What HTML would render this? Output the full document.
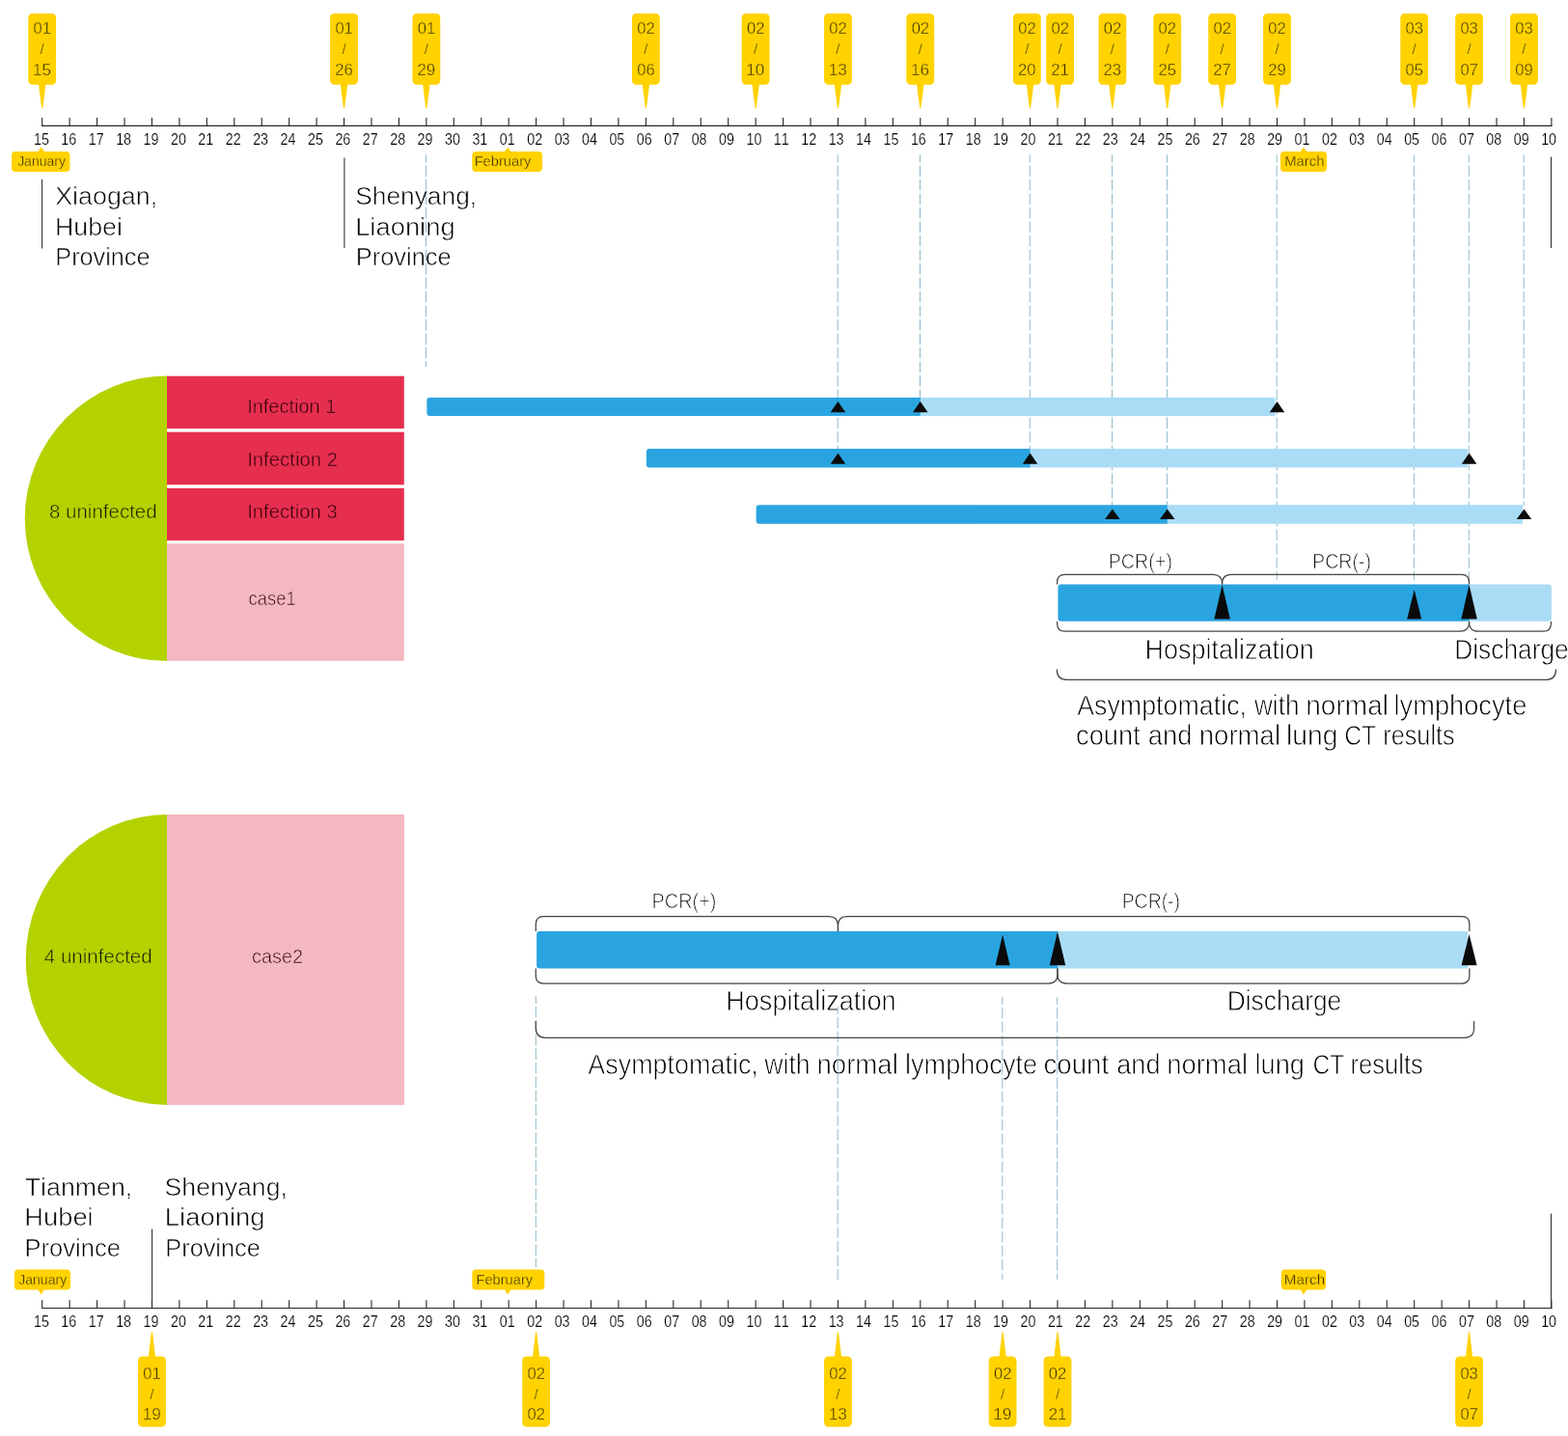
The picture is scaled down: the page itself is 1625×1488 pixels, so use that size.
<!DOCTYPE html>
<html lang="en">
<head>
<meta charset="utf-8">
<title>Timeline of exposure and infection</title>
<style>
html,body{margin:0;padding:0;background:#fff;}
body{width:1625px;height:1488px;overflow:hidden;}
svg{display:block;font-family:"Liberation Sans",sans-serif;font-kerning:none;font-variant-ligatures:none;}
svg text{paint-order:fill stroke;stroke-linejoin:round;}
</style>
</head>
<body>
<svg width="1625" height="1488" viewBox="0 0 1625 1488">
<rect width="1625" height="1488" fill="#ffffff"/>
<g stroke="#262626" stroke-width="1.1" fill="none">
<line x1="43.1" y1="130.4" x2="1608.5" y2="130.4"/>
<path d="M43.7 130.4 V122 M72.14 130.4 V122 M100.58 130.4 V122 M129.02 130.4 V122 M157.46 130.4 V122 M185.9 130.4 V122 M214.34 130.4 V122 M242.78 130.4 V122 M271.22 130.4 V122 M299.66 130.4 V122 M328.1 130.4 V122 M356.54 130.4 V122 M384.98 130.4 V122 M413.42 130.4 V122 M441.86 130.4 V122 M470.3 130.4 V122 M498.74 130.4 V122 M527.18 130.4 V122 M555.62 130.4 V122 M584.06 130.4 V122 M612.5 130.4 V122 M640.94 130.4 V122 M669.38 130.4 V122 M697.82 130.4 V122 M726.26 130.4 V122 M754.7 130.4 V122 M783.14 130.4 V122 M811.58 130.4 V122 M840.02 130.4 V122 M868.46 130.4 V122 M896.9 130.4 V122 M925.34 130.4 V122 M953.78 130.4 V122 M982.22 130.4 V122 M1010.66 130.4 V122 M1039.1 130.4 V122 M1067.54 130.4 V122 M1095.98 130.4 V122 M1124.42 130.4 V122 M1152.86 130.4 V122 M1181.3 130.4 V122 M1209.74 130.4 V122 M1238.18 130.4 V122 M1266.62 130.4 V122 M1295.06 130.4 V122 M1323.5 130.4 V122 M1351.94 130.4 V122 M1380.38 130.4 V122 M1408.82 130.4 V122 M1437.26 130.4 V122 M1465.7 130.4 V122 M1494.14 130.4 V122 M1522.58 130.4 V122 M1551.02 130.4 V122 M1579.46 130.4 V122 M1607.9 130.4 V122"/>
</g>
<g font-size="16.2" fill="#000" stroke="#fff" stroke-width="0.2" text-anchor="middle">
<text x="42.9" y="149.7" textLength="15.9" lengthAdjust="spacingAndGlyphs">15</text>
<text x="71.3" y="149.7" textLength="15.9" lengthAdjust="spacingAndGlyphs">16</text>
<text x="99.71" y="149.7" textLength="15.9" lengthAdjust="spacingAndGlyphs">17</text>
<text x="128.11" y="149.7" textLength="15.9" lengthAdjust="spacingAndGlyphs">18</text>
<text x="156.52" y="149.7" textLength="15.9" lengthAdjust="spacingAndGlyphs">19</text>
<text x="184.92" y="149.7" textLength="15.9" lengthAdjust="spacingAndGlyphs">20</text>
<text x="213.32" y="149.7" textLength="15.9" lengthAdjust="spacingAndGlyphs">21</text>
<text x="241.73" y="149.7" textLength="15.9" lengthAdjust="spacingAndGlyphs">22</text>
<text x="270.13" y="149.7" textLength="15.9" lengthAdjust="spacingAndGlyphs">23</text>
<text x="298.54" y="149.7" textLength="15.9" lengthAdjust="spacingAndGlyphs">24</text>
<text x="326.94" y="149.7" textLength="15.9" lengthAdjust="spacingAndGlyphs">25</text>
<text x="355.34" y="149.7" textLength="15.9" lengthAdjust="spacingAndGlyphs">26</text>
<text x="383.75" y="149.7" textLength="15.9" lengthAdjust="spacingAndGlyphs">27</text>
<text x="412.15" y="149.7" textLength="15.9" lengthAdjust="spacingAndGlyphs">28</text>
<text x="440.56" y="149.7" textLength="15.9" lengthAdjust="spacingAndGlyphs">29</text>
<text x="468.96" y="149.7" textLength="15.9" lengthAdjust="spacingAndGlyphs">30</text>
<text x="497.36" y="149.7" textLength="15.9" lengthAdjust="spacingAndGlyphs">31</text>
<text x="525.77" y="149.7" textLength="15.9" lengthAdjust="spacingAndGlyphs">01</text>
<text x="554.17" y="149.7" textLength="15.9" lengthAdjust="spacingAndGlyphs">02</text>
<text x="582.58" y="149.7" textLength="15.9" lengthAdjust="spacingAndGlyphs">03</text>
<text x="610.98" y="149.7" textLength="15.9" lengthAdjust="spacingAndGlyphs">04</text>
<text x="639.38" y="149.7" textLength="15.9" lengthAdjust="spacingAndGlyphs">05</text>
<text x="667.79" y="149.7" textLength="15.9" lengthAdjust="spacingAndGlyphs">06</text>
<text x="696.19" y="149.7" textLength="15.9" lengthAdjust="spacingAndGlyphs">07</text>
<text x="724.6" y="149.7" textLength="15.9" lengthAdjust="spacingAndGlyphs">08</text>
<text x="753" y="149.7" textLength="15.9" lengthAdjust="spacingAndGlyphs">09</text>
<text x="781.4" y="149.7" textLength="15.9" lengthAdjust="spacingAndGlyphs">10</text>
<text x="809.81" y="149.7" textLength="15.9" lengthAdjust="spacingAndGlyphs">11</text>
<text x="838.21" y="149.7" textLength="15.9" lengthAdjust="spacingAndGlyphs">12</text>
<text x="866.62" y="149.7" textLength="15.9" lengthAdjust="spacingAndGlyphs">13</text>
<text x="895.02" y="149.7" textLength="15.9" lengthAdjust="spacingAndGlyphs">14</text>
<text x="923.42" y="149.7" textLength="15.9" lengthAdjust="spacingAndGlyphs">15</text>
<text x="951.83" y="149.7" textLength="15.9" lengthAdjust="spacingAndGlyphs">16</text>
<text x="980.23" y="149.7" textLength="15.9" lengthAdjust="spacingAndGlyphs">17</text>
<text x="1008.64" y="149.7" textLength="15.9" lengthAdjust="spacingAndGlyphs">18</text>
<text x="1037.04" y="149.7" textLength="15.9" lengthAdjust="spacingAndGlyphs">19</text>
<text x="1065.44" y="149.7" textLength="15.9" lengthAdjust="spacingAndGlyphs">20</text>
<text x="1093.85" y="149.7" textLength="15.9" lengthAdjust="spacingAndGlyphs">21</text>
<text x="1122.25" y="149.7" textLength="15.9" lengthAdjust="spacingAndGlyphs">22</text>
<text x="1150.66" y="149.7" textLength="15.9" lengthAdjust="spacingAndGlyphs">23</text>
<text x="1179.06" y="149.7" textLength="15.9" lengthAdjust="spacingAndGlyphs">24</text>
<text x="1207.46" y="149.7" textLength="15.9" lengthAdjust="spacingAndGlyphs">25</text>
<text x="1235.87" y="149.7" textLength="15.9" lengthAdjust="spacingAndGlyphs">26</text>
<text x="1264.27" y="149.7" textLength="15.9" lengthAdjust="spacingAndGlyphs">27</text>
<text x="1292.68" y="149.7" textLength="15.9" lengthAdjust="spacingAndGlyphs">28</text>
<text x="1321.08" y="149.7" textLength="15.9" lengthAdjust="spacingAndGlyphs">29</text>
<text x="1349.48" y="149.7" textLength="15.9" lengthAdjust="spacingAndGlyphs">01</text>
<text x="1377.89" y="149.7" textLength="15.9" lengthAdjust="spacingAndGlyphs">02</text>
<text x="1406.29" y="149.7" textLength="15.9" lengthAdjust="spacingAndGlyphs">03</text>
<text x="1434.7" y="149.7" textLength="15.9" lengthAdjust="spacingAndGlyphs">04</text>
<text x="1463.1" y="149.7" textLength="15.9" lengthAdjust="spacingAndGlyphs">05</text>
<text x="1491.5" y="149.7" textLength="15.9" lengthAdjust="spacingAndGlyphs">06</text>
<text x="1519.91" y="149.7" textLength="15.9" lengthAdjust="spacingAndGlyphs">07</text>
<text x="1548.31" y="149.7" textLength="15.9" lengthAdjust="spacingAndGlyphs">08</text>
<text x="1576.72" y="149.7" textLength="15.9" lengthAdjust="spacingAndGlyphs">09</text>
<text x="1605.12" y="149.7" textLength="15.9" lengthAdjust="spacingAndGlyphs">10</text>
</g>
<g stroke="#262626" stroke-width="1.1" fill="none">
<line x1="43.1" y1="1355.5" x2="1608.5" y2="1355.5"/>
<path d="M43.7 1355.5 V1347.2 M72.14 1355.5 V1347.2 M100.58 1355.5 V1347.2 M129.02 1355.5 V1347.2 M157.46 1355.5 V1347.2 M185.9 1355.5 V1347.2 M214.34 1355.5 V1347.2 M242.78 1355.5 V1347.2 M271.22 1355.5 V1347.2 M299.66 1355.5 V1347.2 M328.1 1355.5 V1347.2 M356.54 1355.5 V1347.2 M384.98 1355.5 V1347.2 M413.42 1355.5 V1347.2 M441.86 1355.5 V1347.2 M470.3 1355.5 V1347.2 M498.74 1355.5 V1347.2 M527.18 1355.5 V1347.2 M555.62 1355.5 V1347.2 M584.06 1355.5 V1347.2 M612.5 1355.5 V1347.2 M640.94 1355.5 V1347.2 M669.38 1355.5 V1347.2 M697.82 1355.5 V1347.2 M726.26 1355.5 V1347.2 M754.7 1355.5 V1347.2 M783.14 1355.5 V1347.2 M811.58 1355.5 V1347.2 M840.02 1355.5 V1347.2 M868.46 1355.5 V1347.2 M896.9 1355.5 V1347.2 M925.34 1355.5 V1347.2 M953.78 1355.5 V1347.2 M982.22 1355.5 V1347.2 M1010.66 1355.5 V1347.2 M1039.1 1355.5 V1347.2 M1067.54 1355.5 V1347.2 M1095.98 1355.5 V1347.2 M1124.42 1355.5 V1347.2 M1152.86 1355.5 V1347.2 M1181.3 1355.5 V1347.2 M1209.74 1355.5 V1347.2 M1238.18 1355.5 V1347.2 M1266.62 1355.5 V1347.2 M1295.06 1355.5 V1347.2 M1323.5 1355.5 V1347.2 M1351.94 1355.5 V1347.2 M1380.38 1355.5 V1347.2 M1408.82 1355.5 V1347.2 M1437.26 1355.5 V1347.2 M1465.7 1355.5 V1347.2 M1494.14 1355.5 V1347.2 M1522.58 1355.5 V1347.2 M1551.02 1355.5 V1347.2 M1579.46 1355.5 V1347.2 M1607.9 1355.5 V1347.2"/>
</g>
<g font-size="16.2" fill="#000" stroke="#fff" stroke-width="0.2" text-anchor="middle">
<text x="42.9" y="1374.6" textLength="15.9" lengthAdjust="spacingAndGlyphs">15</text>
<text x="71.3" y="1374.6" textLength="15.9" lengthAdjust="spacingAndGlyphs">16</text>
<text x="99.71" y="1374.6" textLength="15.9" lengthAdjust="spacingAndGlyphs">17</text>
<text x="128.11" y="1374.6" textLength="15.9" lengthAdjust="spacingAndGlyphs">18</text>
<text x="156.52" y="1374.6" textLength="15.9" lengthAdjust="spacingAndGlyphs">19</text>
<text x="184.92" y="1374.6" textLength="15.9" lengthAdjust="spacingAndGlyphs">20</text>
<text x="213.32" y="1374.6" textLength="15.9" lengthAdjust="spacingAndGlyphs">21</text>
<text x="241.73" y="1374.6" textLength="15.9" lengthAdjust="spacingAndGlyphs">22</text>
<text x="270.13" y="1374.6" textLength="15.9" lengthAdjust="spacingAndGlyphs">23</text>
<text x="298.54" y="1374.6" textLength="15.9" lengthAdjust="spacingAndGlyphs">24</text>
<text x="326.94" y="1374.6" textLength="15.9" lengthAdjust="spacingAndGlyphs">25</text>
<text x="355.34" y="1374.6" textLength="15.9" lengthAdjust="spacingAndGlyphs">26</text>
<text x="383.75" y="1374.6" textLength="15.9" lengthAdjust="spacingAndGlyphs">27</text>
<text x="412.15" y="1374.6" textLength="15.9" lengthAdjust="spacingAndGlyphs">28</text>
<text x="440.56" y="1374.6" textLength="15.9" lengthAdjust="spacingAndGlyphs">29</text>
<text x="468.96" y="1374.6" textLength="15.9" lengthAdjust="spacingAndGlyphs">30</text>
<text x="497.36" y="1374.6" textLength="15.9" lengthAdjust="spacingAndGlyphs">31</text>
<text x="525.77" y="1374.6" textLength="15.9" lengthAdjust="spacingAndGlyphs">01</text>
<text x="554.17" y="1374.6" textLength="15.9" lengthAdjust="spacingAndGlyphs">02</text>
<text x="582.58" y="1374.6" textLength="15.9" lengthAdjust="spacingAndGlyphs">03</text>
<text x="610.98" y="1374.6" textLength="15.9" lengthAdjust="spacingAndGlyphs">04</text>
<text x="639.38" y="1374.6" textLength="15.9" lengthAdjust="spacingAndGlyphs">05</text>
<text x="667.79" y="1374.6" textLength="15.9" lengthAdjust="spacingAndGlyphs">06</text>
<text x="696.19" y="1374.6" textLength="15.9" lengthAdjust="spacingAndGlyphs">07</text>
<text x="724.6" y="1374.6" textLength="15.9" lengthAdjust="spacingAndGlyphs">08</text>
<text x="753" y="1374.6" textLength="15.9" lengthAdjust="spacingAndGlyphs">09</text>
<text x="781.4" y="1374.6" textLength="15.9" lengthAdjust="spacingAndGlyphs">10</text>
<text x="809.81" y="1374.6" textLength="15.9" lengthAdjust="spacingAndGlyphs">11</text>
<text x="838.21" y="1374.6" textLength="15.9" lengthAdjust="spacingAndGlyphs">12</text>
<text x="866.62" y="1374.6" textLength="15.9" lengthAdjust="spacingAndGlyphs">13</text>
<text x="895.02" y="1374.6" textLength="15.9" lengthAdjust="spacingAndGlyphs">14</text>
<text x="923.42" y="1374.6" textLength="15.9" lengthAdjust="spacingAndGlyphs">15</text>
<text x="951.83" y="1374.6" textLength="15.9" lengthAdjust="spacingAndGlyphs">16</text>
<text x="980.23" y="1374.6" textLength="15.9" lengthAdjust="spacingAndGlyphs">17</text>
<text x="1008.64" y="1374.6" textLength="15.9" lengthAdjust="spacingAndGlyphs">18</text>
<text x="1037.04" y="1374.6" textLength="15.9" lengthAdjust="spacingAndGlyphs">19</text>
<text x="1065.44" y="1374.6" textLength="15.9" lengthAdjust="spacingAndGlyphs">20</text>
<text x="1093.85" y="1374.6" textLength="15.9" lengthAdjust="spacingAndGlyphs">21</text>
<text x="1122.25" y="1374.6" textLength="15.9" lengthAdjust="spacingAndGlyphs">22</text>
<text x="1150.66" y="1374.6" textLength="15.9" lengthAdjust="spacingAndGlyphs">23</text>
<text x="1179.06" y="1374.6" textLength="15.9" lengthAdjust="spacingAndGlyphs">24</text>
<text x="1207.46" y="1374.6" textLength="15.9" lengthAdjust="spacingAndGlyphs">25</text>
<text x="1235.87" y="1374.6" textLength="15.9" lengthAdjust="spacingAndGlyphs">26</text>
<text x="1264.27" y="1374.6" textLength="15.9" lengthAdjust="spacingAndGlyphs">27</text>
<text x="1292.68" y="1374.6" textLength="15.9" lengthAdjust="spacingAndGlyphs">28</text>
<text x="1321.08" y="1374.6" textLength="15.9" lengthAdjust="spacingAndGlyphs">29</text>
<text x="1349.48" y="1374.6" textLength="15.9" lengthAdjust="spacingAndGlyphs">01</text>
<text x="1377.89" y="1374.6" textLength="15.9" lengthAdjust="spacingAndGlyphs">02</text>
<text x="1406.29" y="1374.6" textLength="15.9" lengthAdjust="spacingAndGlyphs">03</text>
<text x="1434.7" y="1374.6" textLength="15.9" lengthAdjust="spacingAndGlyphs">04</text>
<text x="1463.1" y="1374.6" textLength="15.9" lengthAdjust="spacingAndGlyphs">05</text>
<text x="1491.5" y="1374.6" textLength="15.9" lengthAdjust="spacingAndGlyphs">06</text>
<text x="1519.91" y="1374.6" textLength="15.9" lengthAdjust="spacingAndGlyphs">07</text>
<text x="1548.31" y="1374.6" textLength="15.9" lengthAdjust="spacingAndGlyphs">08</text>
<text x="1576.72" y="1374.6" textLength="15.9" lengthAdjust="spacingAndGlyphs">09</text>
<text x="1605.12" y="1374.6" textLength="15.9" lengthAdjust="spacingAndGlyphs">10</text>
</g>
<g font-size="17.2" fill="#3d3000" stroke="#FFD200" stroke-width="0.4">
<path d="M40 87 L41.5 100 L43.2 112 H44.2 L45.9 100 L47.4 87 Z" fill="#FFD200" stroke="none"/>
<rect x="29.3" y="14" width="28.8" height="73.8" rx="4.5" fill="#FFD200" stroke="none"/>
<text x="34.55" y="35" textLength="18.46" lengthAdjust="spacingAndGlyphs">01</text>
<text x="43.7" y="55.8" font-size="15" text-anchor="middle">/</text>
<text x="33.9" y="77.5" textLength="19.02" lengthAdjust="spacingAndGlyphs">15</text>
</g>
<g font-size="17.2" fill="#3d3000" stroke="#FFD200" stroke-width="0.4">
<path d="M352.84 87 L354.34 100 L356.04 112 H357.04 L358.74 100 L360.24 87 Z" fill="#FFD200" stroke="none"/>
<rect x="342.14" y="14" width="28.8" height="73.8" rx="4.5" fill="#FFD200" stroke="none"/>
<text x="347.39" y="35" textLength="18.46" lengthAdjust="spacingAndGlyphs">01</text>
<text x="356.54" y="55.8" font-size="15" text-anchor="middle">/</text>
<text x="347.2" y="77.5" textLength="18.57" lengthAdjust="spacingAndGlyphs">26</text>
</g>
<g font-size="17.2" fill="#3d3000" stroke="#FFD200" stroke-width="0.4">
<path d="M438.16 87 L439.66 100 L441.36 112 H442.36 L444.06 100 L445.56 87 Z" fill="#FFD200" stroke="none"/>
<rect x="427.46" y="14" width="28.8" height="73.8" rx="4.5" fill="#FFD200" stroke="none"/>
<text x="432.71" y="35" textLength="18.46" lengthAdjust="spacingAndGlyphs">01</text>
<text x="441.86" y="55.8" font-size="15" text-anchor="middle">/</text>
<text x="432.52" y="77.5" textLength="18.64" lengthAdjust="spacingAndGlyphs">29</text>
</g>
<g font-size="17.2" fill="#3d3000" stroke="#FFD200" stroke-width="0.4">
<path d="M665.68 87 L667.18 100 L668.88 112 H669.88 L671.58 100 L673.08 87 Z" fill="#FFD200" stroke="none"/>
<rect x="654.98" y="14" width="28.8" height="73.8" rx="4.5" fill="#FFD200" stroke="none"/>
<text x="660.23" y="35" textLength="18.48" lengthAdjust="spacingAndGlyphs">02</text>
<text x="669.38" y="55.8" font-size="15" text-anchor="middle">/</text>
<text x="660.23" y="77.5" textLength="18.37" lengthAdjust="spacingAndGlyphs">06</text>
</g>
<g font-size="17.2" fill="#3d3000" stroke="#FFD200" stroke-width="0.4">
<path d="M779.44 87 L780.94 100 L782.64 112 H783.64 L785.34 100 L786.84 87 Z" fill="#FFD200" stroke="none"/>
<rect x="768.74" y="14" width="28.8" height="73.8" rx="4.5" fill="#FFD200" stroke="none"/>
<text x="773.99" y="35" textLength="18.48" lengthAdjust="spacingAndGlyphs">02</text>
<text x="783.14" y="55.8" font-size="15" text-anchor="middle">/</text>
<text x="773.34" y="77.5" textLength="18.96" lengthAdjust="spacingAndGlyphs">10</text>
</g>
<g font-size="17.2" fill="#3d3000" stroke="#FFD200" stroke-width="0.4">
<path d="M864.76 87 L866.26 100 L867.96 112 H868.96 L870.66 100 L872.16 87 Z" fill="#FFD200" stroke="none"/>
<rect x="854.06" y="14" width="28.8" height="73.8" rx="4.5" fill="#FFD200" stroke="none"/>
<text x="859.31" y="35" textLength="18.48" lengthAdjust="spacingAndGlyphs">02</text>
<text x="868.46" y="55.8" font-size="15" text-anchor="middle">/</text>
<text x="858.65" y="77.5" textLength="19.06" lengthAdjust="spacingAndGlyphs">13</text>
</g>
<g font-size="17.2" fill="#3d3000" stroke="#FFD200" stroke-width="0.4">
<path d="M950.08 87 L951.58 100 L953.28 112 H954.28 L955.98 100 L957.48 87 Z" fill="#FFD200" stroke="none"/>
<rect x="939.38" y="14" width="28.8" height="73.8" rx="4.5" fill="#FFD200" stroke="none"/>
<text x="944.63" y="35" textLength="18.48" lengthAdjust="spacingAndGlyphs">02</text>
<text x="953.78" y="55.8" font-size="15" text-anchor="middle">/</text>
<text x="943.97" y="77.5" textLength="19.06" lengthAdjust="spacingAndGlyphs">16</text>
</g>
<g font-size="17.2" fill="#3d3000" stroke="#FFD200" stroke-width="0.4">
<path d="M1063.84 87 L1065.34 100 L1067.04 112 H1068.04 L1069.74 100 L1071.24 87 Z" fill="#FFD200" stroke="none"/>
<rect x="1049.94" y="14" width="28.8" height="73.8" rx="4.5" fill="#FFD200" stroke="none"/>
<text x="1055.19" y="35" textLength="18.48" lengthAdjust="spacingAndGlyphs">02</text>
<text x="1064.34" y="55.8" font-size="15" text-anchor="middle">/</text>
<text x="1055" y="77.5" textLength="18.48" lengthAdjust="spacingAndGlyphs">20</text>
</g>
<g font-size="17.2" fill="#3d3000" stroke="#FFD200" stroke-width="0.4">
<path d="M1092.28 87 L1093.78 100 L1095.48 112 H1096.48 L1098.18 100 L1099.68 87 Z" fill="#FFD200" stroke="none"/>
<rect x="1084.18" y="14" width="28.8" height="73.8" rx="4.5" fill="#FFD200" stroke="none"/>
<text x="1089.43" y="35" textLength="18.48" lengthAdjust="spacingAndGlyphs">02</text>
<text x="1098.58" y="55.8" font-size="15" text-anchor="middle">/</text>
<text x="1089.24" y="77.5" textLength="18.66" lengthAdjust="spacingAndGlyphs">21</text>
</g>
<g font-size="17.2" fill="#3d3000" stroke="#FFD200" stroke-width="0.4">
<path d="M1149.16 87 L1150.66 100 L1152.36 112 H1153.36 L1155.06 100 L1156.56 87 Z" fill="#FFD200" stroke="none"/>
<rect x="1138.46" y="14" width="28.8" height="73.8" rx="4.5" fill="#FFD200" stroke="none"/>
<text x="1143.71" y="35" textLength="18.48" lengthAdjust="spacingAndGlyphs">02</text>
<text x="1152.86" y="55.8" font-size="15" text-anchor="middle">/</text>
<text x="1143.52" y="77.5" textLength="18.57" lengthAdjust="spacingAndGlyphs">23</text>
</g>
<g font-size="17.2" fill="#3d3000" stroke="#FFD200" stroke-width="0.4">
<path d="M1206.04 87 L1207.54 100 L1209.24 112 H1210.24 L1211.94 100 L1213.44 87 Z" fill="#FFD200" stroke="none"/>
<rect x="1195.34" y="14" width="28.8" height="73.8" rx="4.5" fill="#FFD200" stroke="none"/>
<text x="1200.59" y="35" textLength="18.48" lengthAdjust="spacingAndGlyphs">02</text>
<text x="1209.74" y="55.8" font-size="15" text-anchor="middle">/</text>
<text x="1200.4" y="77.5" textLength="18.54" lengthAdjust="spacingAndGlyphs">25</text>
</g>
<g font-size="17.2" fill="#3d3000" stroke="#FFD200" stroke-width="0.4">
<path d="M1262.92 87 L1264.42 100 L1266.12 112 H1267.12 L1268.82 100 L1270.32 87 Z" fill="#FFD200" stroke="none"/>
<rect x="1252.22" y="14" width="28.8" height="73.8" rx="4.5" fill="#FFD200" stroke="none"/>
<text x="1257.47" y="35" textLength="18.48" lengthAdjust="spacingAndGlyphs">02</text>
<text x="1266.62" y="55.8" font-size="15" text-anchor="middle">/</text>
<text x="1257.27" y="77.5" textLength="18.69" lengthAdjust="spacingAndGlyphs">27</text>
</g>
<g font-size="17.2" fill="#3d3000" stroke="#FFD200" stroke-width="0.4">
<path d="M1319.8 87 L1321.3 100 L1323 112 H1324 L1325.7 100 L1327.2 87 Z" fill="#FFD200" stroke="none"/>
<rect x="1309.1" y="14" width="28.8" height="73.8" rx="4.5" fill="#FFD200" stroke="none"/>
<text x="1314.35" y="35" textLength="18.48" lengthAdjust="spacingAndGlyphs">02</text>
<text x="1323.5" y="55.8" font-size="15" text-anchor="middle">/</text>
<text x="1314.16" y="77.5" textLength="18.64" lengthAdjust="spacingAndGlyphs">29</text>
</g>
<g font-size="17.2" fill="#3d3000" stroke="#FFD200" stroke-width="0.4">
<path d="M1462 87 L1463.5 100 L1465.2 112 H1466.2 L1467.9 100 L1469.4 87 Z" fill="#FFD200" stroke="none"/>
<rect x="1451.3" y="14" width="28.8" height="73.8" rx="4.5" fill="#FFD200" stroke="none"/>
<text x="1456.55" y="35" textLength="18.37" lengthAdjust="spacingAndGlyphs">03</text>
<text x="1465.7" y="55.8" font-size="15" text-anchor="middle">/</text>
<text x="1456.56" y="77.5" textLength="18.34" lengthAdjust="spacingAndGlyphs">05</text>
</g>
<g font-size="17.2" fill="#3d3000" stroke="#FFD200" stroke-width="0.4">
<path d="M1518.88 87 L1520.38 100 L1522.08 112 H1523.08 L1524.78 100 L1526.28 87 Z" fill="#FFD200" stroke="none"/>
<rect x="1508.18" y="14" width="28.8" height="73.8" rx="4.5" fill="#FFD200" stroke="none"/>
<text x="1513.43" y="35" textLength="18.37" lengthAdjust="spacingAndGlyphs">03</text>
<text x="1522.58" y="55.8" font-size="15" text-anchor="middle">/</text>
<text x="1513.43" y="77.5" textLength="18.48" lengthAdjust="spacingAndGlyphs">07</text>
</g>
<g font-size="17.2" fill="#3d3000" stroke="#FFD200" stroke-width="0.4">
<path d="M1575.76 87 L1577.26 100 L1578.96 112 H1579.96 L1581.66 100 L1583.16 87 Z" fill="#FFD200" stroke="none"/>
<rect x="1565.06" y="14" width="28.8" height="73.8" rx="4.5" fill="#FFD200" stroke="none"/>
<text x="1570.31" y="35" textLength="18.37" lengthAdjust="spacingAndGlyphs">03</text>
<text x="1579.46" y="55.8" font-size="15" text-anchor="middle">/</text>
<text x="1570.31" y="77.5" textLength="18.43" lengthAdjust="spacingAndGlyphs">09</text>
</g>
<g font-size="17.2" fill="#3d3000" stroke="#FFD200" stroke-width="0.4">
<path d="M153.76 1407 L155.26 1394 L156.96 1380.3 H157.96 L159.66 1394 L161.16 1407 Z" fill="#FFD200" stroke="none"/>
<rect x="143.06" y="1405.5" width="28.8" height="73" rx="4.5" fill="#FFD200" stroke="none"/>
<text x="148.31" y="1428.7" textLength="18.46" lengthAdjust="spacingAndGlyphs">01</text>
<text x="157.46" y="1449.8" font-size="15" text-anchor="middle">/</text>
<text x="147.65" y="1471.4" textLength="19.12" lengthAdjust="spacingAndGlyphs">19</text>
</g>
<g font-size="17.2" fill="#3d3000" stroke="#FFD200" stroke-width="0.4">
<path d="M551.92 1407 L553.42 1394 L555.12 1380.3 H556.12 L557.82 1394 L559.32 1407 Z" fill="#FFD200" stroke="none"/>
<rect x="541.22" y="1405.5" width="28.8" height="73" rx="4.5" fill="#FFD200" stroke="none"/>
<text x="546.47" y="1428.7" textLength="18.48" lengthAdjust="spacingAndGlyphs">02</text>
<text x="555.62" y="1449.8" font-size="15" text-anchor="middle">/</text>
<text x="546.47" y="1471.4" textLength="18.48" lengthAdjust="spacingAndGlyphs">02</text>
</g>
<g font-size="17.2" fill="#3d3000" stroke="#FFD200" stroke-width="0.4">
<path d="M864.76 1407 L866.26 1394 L867.96 1380.3 H868.96 L870.66 1394 L872.16 1407 Z" fill="#FFD200" stroke="none"/>
<rect x="854.06" y="1405.5" width="28.8" height="73" rx="4.5" fill="#FFD200" stroke="none"/>
<text x="859.31" y="1428.7" textLength="18.48" lengthAdjust="spacingAndGlyphs">02</text>
<text x="868.46" y="1449.8" font-size="15" text-anchor="middle">/</text>
<text x="858.65" y="1471.4" textLength="19.06" lengthAdjust="spacingAndGlyphs">13</text>
</g>
<g font-size="17.2" fill="#3d3000" stroke="#FFD200" stroke-width="0.4">
<path d="M1035.4 1407 L1036.9 1394 L1038.6 1380.3 H1039.6 L1041.3 1394 L1042.8 1407 Z" fill="#FFD200" stroke="none"/>
<rect x="1024.7" y="1405.5" width="28.8" height="73" rx="4.5" fill="#FFD200" stroke="none"/>
<text x="1029.95" y="1428.7" textLength="18.48" lengthAdjust="spacingAndGlyphs">02</text>
<text x="1039.1" y="1449.8" font-size="15" text-anchor="middle">/</text>
<text x="1029.29" y="1471.4" textLength="19.12" lengthAdjust="spacingAndGlyphs">19</text>
</g>
<g font-size="17.2" fill="#3d3000" stroke="#FFD200" stroke-width="0.4">
<path d="M1092.28 1407 L1093.78 1394 L1095.48 1380.3 H1096.48 L1098.18 1394 L1099.68 1407 Z" fill="#FFD200" stroke="none"/>
<rect x="1081.58" y="1405.5" width="28.8" height="73" rx="4.5" fill="#FFD200" stroke="none"/>
<text x="1086.83" y="1428.7" textLength="18.48" lengthAdjust="spacingAndGlyphs">02</text>
<text x="1095.98" y="1449.8" font-size="15" text-anchor="middle">/</text>
<text x="1086.64" y="1471.4" textLength="18.66" lengthAdjust="spacingAndGlyphs">21</text>
</g>
<g font-size="17.2" fill="#3d3000" stroke="#FFD200" stroke-width="0.4">
<path d="M1518.88 1407 L1520.38 1394 L1522.08 1380.3 H1523.08 L1524.78 1394 L1526.28 1407 Z" fill="#FFD200" stroke="none"/>
<rect x="1508.18" y="1405.5" width="28.8" height="73" rx="4.5" fill="#FFD200" stroke="none"/>
<text x="1513.43" y="1428.7" textLength="18.37" lengthAdjust="spacingAndGlyphs">03</text>
<text x="1522.58" y="1449.8" font-size="15" text-anchor="middle">/</text>
<text x="1513.43" y="1471.4" textLength="18.48" lengthAdjust="spacingAndGlyphs">07</text>
</g>
<path d="M38.7 158 L42.7 152.5 L46.7 158 Z" fill="#FFD200"/>
<rect x="12" y="157" width="60.4" height="21" rx="4" fill="#FFD200"/>
<text x="18.13" y="172.4" font-size="14.5" fill="#3d3000" textLength="49.75" lengthAdjust="spacingAndGlyphs" stroke="#FFD200" stroke-width="0.3">January</text>
<path d="M522.18 158 L526.18 152.5 L530.18 158 Z" fill="#FFD200"/>
<rect x="489.3" y="157" width="72.7" height="21" rx="4" fill="#FFD200"/>
<text x="491.65" y="172.4" font-size="14.5" fill="#3d3000" textLength="58.73" lengthAdjust="spacingAndGlyphs" stroke="#FFD200" stroke-width="0.3">February</text>
<path d="M1346.94 158 L1350.94 152.5 L1354.94 158 Z" fill="#FFD200"/>
<rect x="1327" y="157" width="48" height="21" rx="4" fill="#FFD200"/>
<text x="1331.23" y="172.4" font-size="14.5" fill="#3d3000" textLength="41.28" lengthAdjust="spacingAndGlyphs" stroke="#FFD200" stroke-width="0.3">March</text>
<path d="M38.7 1335 L42.7 1341.5 L46.7 1335 Z" fill="#FFD200"/>
<rect x="14.9" y="1315.5" width="58.2" height="21" rx="4" fill="#FFD200"/>
<text x="19.23" y="1330.8" font-size="14.5" fill="#3d3000" textLength="49.95" lengthAdjust="spacingAndGlyphs" stroke="#FFD200" stroke-width="0.3">January</text>
<path d="M522.18 1335 L526.18 1341.5 L530.18 1335 Z" fill="#FFD200"/>
<rect x="489.3" y="1315.5" width="75" height="21" rx="4" fill="#FFD200"/>
<text x="493.45" y="1330.8" font-size="14.5" fill="#3d3000" textLength="58.73" lengthAdjust="spacingAndGlyphs" stroke="#FFD200" stroke-width="0.3">February</text>
<path d="M1346.94 1335 L1350.94 1341.5 L1354.94 1335 Z" fill="#FFD200"/>
<rect x="1327.8" y="1315.5" width="46.2" height="21" rx="4" fill="#FFD200"/>
<text x="1330.8" y="1330.8" font-size="14.5" fill="#3d3000" textLength="42.34" lengthAdjust="spacingAndGlyphs" stroke="#FFD200" stroke-width="0.3">March</text>
<g stroke="#333" stroke-width="1.1">
<line x1="43.6" y1="186" x2="43.6" y2="257.5"/>
<line x1="356.9" y1="163.5" x2="356.9" y2="257"/>
<line x1="1607.5" y1="162.5" x2="1607.5" y2="257"/>
<line x1="157.6" y1="1273.5" x2="157.6" y2="1355.5"/>
<line x1="1607.5" y1="1257.5" x2="1607.5" y2="1355.5"/>
</g>
<text x="57.2" y="212.3" font-size="26.2" fill="#050505" textLength="105.91" lengthAdjust="spacingAndGlyphs" stroke="#fff" stroke-width="0.6">Xiaogan,</text>
<text x="56.9" y="244.1" font-size="26.2" fill="#050505" textLength="70.11" lengthAdjust="spacingAndGlyphs" stroke="#fff" stroke-width="0.6">Hubei</text>
<text x="57.33" y="275" font-size="26.2" fill="#050505" textLength="98.19" lengthAdjust="spacingAndGlyphs" stroke="#fff" stroke-width="0.6">Province</text>
<text x="368.2" y="212.3" font-size="26.2" fill="#050505" textLength="125.96" lengthAdjust="spacingAndGlyphs" stroke="#fff" stroke-width="0.6">Shenyang,</text>
<text x="368.15" y="244.1" font-size="26.2" fill="#050505" textLength="103.51" lengthAdjust="spacingAndGlyphs" stroke="#fff" stroke-width="0.6">Liaoning</text>
<text x="368.81" y="275" font-size="26.2" fill="#050505" textLength="98.92" lengthAdjust="spacingAndGlyphs" stroke="#fff" stroke-width="0.6">Province</text>
<text x="25.7" y="1239.3" font-size="26.2" fill="#050505" textLength="111.61" lengthAdjust="spacingAndGlyphs" stroke="#fff" stroke-width="0.6">Tianmen,</text>
<text x="25.36" y="1270.2" font-size="26.2" fill="#050505" textLength="71.28" lengthAdjust="spacingAndGlyphs" stroke="#fff" stroke-width="0.6">Hubei</text>
<text x="25.5" y="1301.6" font-size="26.2" fill="#050505" textLength="99.43" lengthAdjust="spacingAndGlyphs" stroke="#fff" stroke-width="0.6">Province</text>
<text x="170.59" y="1239.3" font-size="26.2" fill="#050505" textLength="127.3" lengthAdjust="spacingAndGlyphs" stroke="#fff" stroke-width="0.6">Shenyang,</text>
<text x="170.85" y="1270.2" font-size="26.2" fill="#050505" textLength="103.72" lengthAdjust="spacingAndGlyphs" stroke="#fff" stroke-width="0.6">Liaoning</text>
<text x="171.32" y="1301.6" font-size="26.2" fill="#050505" textLength="98.5" lengthAdjust="spacingAndGlyphs" stroke="#fff" stroke-width="0.6">Province</text>
<path d="M173.3 389.5 A147.6 147.7 0 0 0 173.3 685 Z" fill="#B4D200"/>
<rect x="173" y="389.7" width="245.8" height="54.4" fill="#E62F4F"/>
<rect x="173" y="447.7" width="245.8" height="54.6" fill="#E62F4F"/>
<rect x="173" y="505.9" width="245.8" height="54.2" fill="#E62F4F"/>
<rect x="173" y="563.3" width="245.8" height="121.5" fill="#F4B8C0"/>
<text x="50.93" y="537.3" font-size="21" fill="#161c00" textLength="111.76" lengthAdjust="spacingAndGlyphs" stroke="#B4D200" stroke-width="0.55">8 uninfected</text>
<text x="256.18" y="428.4" font-size="21" fill="#2e0008" textLength="92.07" lengthAdjust="spacingAndGlyphs" stroke="#E62F4F" stroke-width="0.55">Infection 1</text>
<text x="256.15" y="482.9" font-size="21" fill="#2e0008" textLength="93.95" lengthAdjust="spacingAndGlyphs" stroke="#E62F4F" stroke-width="0.55">Infection 2</text>
<text x="256.15" y="536.6" font-size="21" fill="#2e0008" textLength="93.61" lengthAdjust="spacingAndGlyphs" stroke="#E62F4F" stroke-width="0.55">Infection 3</text>
<text x="257.44" y="626.5" font-size="21" fill="#3a0a16" textLength="49.23" lengthAdjust="spacingAndGlyphs" stroke="#F4B8C0" stroke-width="0.55">case1</text>
<path d="M173.3 844 A146.6 150.5 0 0 0 173.3 1145 Z" fill="#B4D200"/>
<rect x="173" y="844" width="246" height="301" fill="#F4B8C0"/>
<text x="45.85" y="997.7" font-size="21" fill="#161c00" textLength="111.84" lengthAdjust="spacingAndGlyphs" stroke="#B4D200" stroke-width="0.55">4 uninfected</text>
<text x="261.08" y="997.7" font-size="21" fill="#3a0a16" textLength="52.99" lengthAdjust="spacingAndGlyphs" stroke="#F4B8C0" stroke-width="0.55">case2</text>
<text x="1148.73" y="589" font-size="21.6" fill="#111" textLength="66.24" lengthAdjust="spacingAndGlyphs" stroke="#fff" stroke-width="0.7">PCR(+)</text>
<text x="1360.04" y="589" font-size="21.6" fill="#111" textLength="61.13" lengthAdjust="spacingAndGlyphs" stroke="#fff" stroke-width="0.7">PCR(-)</text>
<text x="1186.59" y="682.6" font-size="30" fill="#000" textLength="175.26" lengthAdjust="spacingAndGlyphs" stroke="#fff" stroke-width="0.8">Hospitalization</text>
<text x="1507.24" y="682.6" font-size="30" fill="#000" textLength="118.53" lengthAdjust="spacingAndGlyphs" stroke="#fff" stroke-width="0.8">Discharge</text>
<text y="741.3" font-size="30" fill="#000" stroke="#fff" stroke-width="0.8"><tspan x="1116.15" textLength="175.86" lengthAdjust="spacingAndGlyphs">Asymptomatic,</tspan> <tspan x="1299.94" textLength="46.56" lengthAdjust="spacingAndGlyphs">with</tspan> <tspan x="1353.24" textLength="85.74" lengthAdjust="spacingAndGlyphs">normal</tspan> <tspan x="1444.56" textLength="137.75" lengthAdjust="spacingAndGlyphs">lymphocyte</tspan></text>
<text y="772.2" font-size="30" fill="#000" stroke="#fff" stroke-width="0.8"><tspan x="1115.04" textLength="66.76" lengthAdjust="spacingAndGlyphs">count</tspan> <tspan x="1189.84" textLength="45.62" lengthAdjust="spacingAndGlyphs">and</tspan> <tspan x="1242.66" textLength="84.48" lengthAdjust="spacingAndGlyphs">normal</tspan> <tspan x="1333.1" textLength="53.43" lengthAdjust="spacingAndGlyphs">lung</tspan> <tspan x="1393.14" textLength="33.03" lengthAdjust="spacingAndGlyphs">CT</tspan> <tspan x="1433.33" textLength="74.29" lengthAdjust="spacingAndGlyphs">results</tspan></text>
<text x="675.52" y="941" font-size="21.6" fill="#111" textLength="66.87" lengthAdjust="spacingAndGlyphs" stroke="#fff" stroke-width="0.7">PCR(+)</text>
<text x="1162.66" y="941" font-size="21.6" fill="#111" textLength="60.4" lengthAdjust="spacingAndGlyphs" stroke="#fff" stroke-width="0.7">PCR(-)</text>
<text x="752.18" y="1047.3" font-size="30" fill="#000" textLength="176.39" lengthAdjust="spacingAndGlyphs" stroke="#fff" stroke-width="0.8">Hospitalization</text>
<text x="1271.74" y="1047.3" font-size="30" fill="#000" textLength="118.53" lengthAdjust="spacingAndGlyphs" stroke="#fff" stroke-width="0.8">Discharge</text>
<text y="1112.9" font-size="30" fill="#000" stroke="#fff" stroke-width="0.8"><tspan x="609.35" textLength="176.47" lengthAdjust="spacingAndGlyphs">Asymptomatic,</tspan> <tspan x="792.24" textLength="47.5" lengthAdjust="spacingAndGlyphs">with</tspan> <tspan x="846.47" textLength="84.38" lengthAdjust="spacingAndGlyphs">normal</tspan> <tspan x="937.97" textLength="137.13" lengthAdjust="spacingAndGlyphs">lymphocyte</tspan> <tspan x="1081.42" textLength="67.78" lengthAdjust="spacingAndGlyphs">count</tspan> <tspan x="1157.25" textLength="45.2" lengthAdjust="spacingAndGlyphs">and</tspan> <tspan x="1209.18" textLength="83.86" lengthAdjust="spacingAndGlyphs">normal</tspan> <tspan x="1300.57" textLength="51.38" lengthAdjust="spacingAndGlyphs">lung</tspan> <tspan x="1360.55" textLength="32.82" lengthAdjust="spacingAndGlyphs">CT</tspan> <tspan x="1399.4" textLength="75.43" lengthAdjust="spacingAndGlyphs">results</tspan></text>
<g id="dashes">
<line x1="441.56" y1="160.5" x2="441.56" y2="380" stroke="#8fbace" stroke-width="1" stroke-dasharray="11.5 3" stroke-dashoffset="3.5"/>
<line x1="868.16" y1="160.5" x2="868.16" y2="466" stroke="#8fbace" stroke-width="1" stroke-dasharray="11.5 3" stroke-dashoffset="3.5"/>
<line x1="953.48" y1="160.5" x2="953.48" y2="413" stroke="#8fbace" stroke-width="1" stroke-dasharray="11.5 3" stroke-dashoffset="3.5"/>
<line x1="1067.24" y1="160.5" x2="1067.24" y2="466" stroke="#8fbace" stroke-width="1" stroke-dasharray="11.5 3" stroke-dashoffset="3.5"/>
<line x1="1152.56" y1="160.5" x2="1152.56" y2="524" stroke="#8fbace" stroke-width="1" stroke-dasharray="11.5 3" stroke-dashoffset="3.5"/>
<line x1="1209.44" y1="160.5" x2="1209.44" y2="524" stroke="#8fbace" stroke-width="1" stroke-dasharray="11.5 3" stroke-dashoffset="3.5"/>
<line x1="1323.2" y1="160.5" x2="1323.2" y2="601" stroke="#8fbace" stroke-width="1" stroke-dasharray="11.5 3" stroke-dashoffset="3.5"/>
<line x1="1465.4" y1="160.5" x2="1465.4" y2="601" stroke="#8fbace" stroke-width="1" stroke-dasharray="11.5 3" stroke-dashoffset="3.5"/>
<line x1="1522.28" y1="160.5" x2="1522.28" y2="606" stroke="#8fbace" stroke-width="1" stroke-dasharray="11.5 3" stroke-dashoffset="3.5"/>
<line x1="1579.16" y1="160.5" x2="1579.16" y2="524" stroke="#8fbace" stroke-width="1" stroke-dasharray="11.5 3" stroke-dashoffset="3.5"/>
<line x1="555.32" y1="1032" x2="555.32" y2="1313" stroke="#8fbace" stroke-width="1" stroke-dasharray="11.5 3" stroke-dashoffset="3.5"/>
<line x1="868.16" y1="1043" x2="868.16" y2="1326" stroke="#8fbace" stroke-width="1" stroke-dasharray="11.5 3" stroke-dashoffset="3.5"/>
<line x1="1038.8" y1="1033" x2="1038.8" y2="1326" stroke="#8fbace" stroke-width="1" stroke-dasharray="11.5 3" stroke-dashoffset="3.5"/>
<line x1="1095.68" y1="1033" x2="1095.68" y2="1326" stroke="#8fbace" stroke-width="1" stroke-dasharray="11.5 3" stroke-dashoffset="3.5"/>
</g>
<rect x="952.78" y="411.9" width="368.72" height="19.2" fill="#AADCF6"/>
<path d="M445.36 411.9 H953.78 V431.1 H445.36 a3 3 0 0 1 -3 -3 V414.9 a3 3 0 0 1 3 -3 Z" fill="#2AA4E0"/>
<rect x="1066.54" y="465" width="454.46" height="19.4" fill="#AADCF6"/>
<path d="M672.88 465 H1067.54 V484.4 H672.88 a3 3 0 0 1 -3 -3 V468 a3 3 0 0 1 3 -3 Z" fill="#2AA4E0"/>
<rect x="1208.74" y="523.2" width="369.26" height="19.6" fill="#AADCF6"/>
<path d="M786.64 523.2 H1209.74 V542.8 H786.64 a3 3 0 0 1 -3 -3 V526.2 a3 3 0 0 1 3 -3 Z" fill="#2AA4E0"/>
<path d="M868.46 416 L876.21 427.3 L860.71 427.3 Z" fill="#0a0a0a"/>
<path d="M953.78 416 L961.53 427.3 L946.03 427.3 Z" fill="#0a0a0a"/>
<path d="M1323.5 416 L1331.25 427.3 L1315.75 427.3 Z" fill="#0a0a0a"/>
<path d="M868.46 469.5 L876.21 480.7 L860.71 480.7 Z" fill="#0a0a0a"/>
<path d="M1067.54 469.5 L1075.29 480.7 L1059.79 480.7 Z" fill="#0a0a0a"/>
<path d="M1522.58 469.5 L1530.33 480.7 L1514.83 480.7 Z" fill="#0a0a0a"/>
<path d="M1152.86 527.5 L1160.61 538 L1145.11 538 Z" fill="#0a0a0a"/>
<path d="M1209.74 527.5 L1217.49 538 L1201.99 538 Z" fill="#0a0a0a"/>
<path d="M1579.46 527.5 L1587.21 538 L1571.71 538 Z" fill="#0a0a0a"/>
<path d="M1521.58 605.4 H1604.9 a3 3 0 0 1 3 3 V640.7 a3 3 0 0 1 -3 3 H1521.58 Z" fill="#AADCF6"/>
<path d="M1099.48 605.4 H1522.58 V643.7 H1099.48 a3 3 0 0 1 -3 -3 V608.4 a3 3 0 0 1 3 -3 Z" fill="#2AA4E0"/>
<path d="M1266.62 606 L1274.87 641.6 L1258.37 641.6 Z" fill="#0a0a0a"/>
<path d="M1465.7 611 L1473.2 641.6 L1458.2 641.6 Z" fill="#0a0a0a"/>
<path d="M1522.58 606 L1530.83 641.6 L1514.33 641.6 Z" fill="#0a0a0a"/>
<rect x="1094.98" y="965" width="426.22" height="38.5" fill="#AADCF6"/>
<path d="M559.12 965 H1095.98 V1003.5 H559.12 a3 3 0 0 1 -3 -3 V968 a3 3 0 0 1 3 -3 Z" fill="#2AA4E0"/>
<path d="M1039.1 968.5 L1046.6 1000.2 L1031.6 1000.2 Z" fill="#0a0a0a"/>
<path d="M1095.98 965.5 L1104.23 1000.2 L1087.73 1000.2 Z" fill="#0a0a0a"/>
<path d="M1522.58 968 L1530.58 1000.2 L1514.58 1000.2 Z" fill="#0a0a0a"/>
<g stroke="#444" stroke-width="1.25" fill="none">
<path d="M1095.6 605.5 V603.4 Q1095.6 595.4 1103.6 595.4 H1257.12 Q1266.62 595.4 1266.62 604.9 V605.5"/>
<path d="M1266.62 605.5 V604.9 Q1266.62 595.4 1276.12 595.4 H1514.58 Q1522.58 595.4 1522.58 603.4 V605.5"/>
<path d="M1095.6 644 V646.2 Q1095.6 654.2 1103.6 654.2 H1513.08 Q1522.58 654.2 1522.58 644.7 V644"/>
<path d="M1522.58 644 V644.7 Q1522.58 654.2 1532.08 654.2 H1599.4 Q1607.4 654.2 1607.4 646.2 V644"/>
<path d="M1095.4 693.5 V694.3 Q1095.4 704.3 1105.4 704.3 H1602.4 Q1612.4 704.3 1612.4 694.3 V693.5"/>
<path d="M555.3 965 V957.5 Q555.3 949.5 563.3 949.5 H858.96 Q868.46 949.5 868.46 959 V965"/>
<path d="M868.46 965 V959 Q868.46 949.5 877.96 949.5 H1514.9 Q1522.9 949.5 1522.9 957.5 V965"/>
<path d="M555.3 1003.5 V1011 Q555.3 1019 563.3 1019 H1086.48 Q1095.98 1019 1095.98 1009.5 V1003.5"/>
<path d="M1095.98 1003.5 V1009.5 Q1095.98 1019 1105.48 1019 H1514.9 Q1522.9 1019 1522.9 1011 V1003.5"/>
<path d="M555.3 1058 V1065.3 Q555.3 1075.3 565.3 1075.3 H1517.6 Q1527.6 1075.3 1527.6 1065.3 V1058"/>
</g>
</svg>
</body>
</html>
